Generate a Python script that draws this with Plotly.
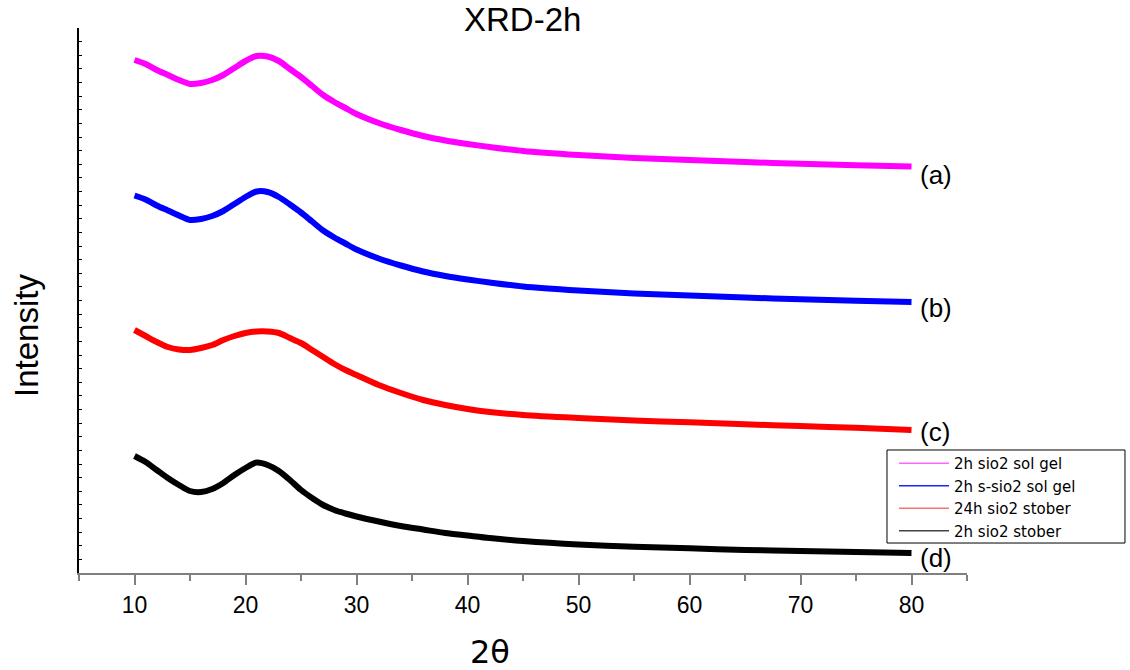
import plotly.graph_objects as go

# 2-theta sample positions (degrees)
two_theta = [10, 11, 12, 13, 14, 15, 16, 17, 18, 19, 20, 21, 22, 23, 24, 25, 26, 27, 28, 29,
             30, 32, 34, 36, 38, 40, 42, 45, 50, 55, 60, 65, 70, 75, 80]

# Intensity (a.u., stacked/offset as in the figure)
sol_gel_2h = [513, 509, 503, 498, 493, 489, 490, 493, 498, 505, 512, 517, 516.5, 512, 504, 496, 487, 478, 471, 465,
              459, 450, 443, 437, 432.5, 429, 426, 422, 418, 415, 413, 411, 409.2, 407.8, 406.5]
s_sol_gel_2h = [377.5, 373.5, 367.5, 362.5, 357.5, 353, 354, 357, 362, 369, 376, 381.5, 381, 376, 368.5, 360.5, 351.5, 342.5, 335.5, 329.5,
                323.5, 314.5, 307.5, 301.5, 297, 293.5, 290.5, 286.5, 282.5, 279.5, 277.5, 275.5, 273.7, 272.3, 271]
stober_24h = [243, 237, 231, 226, 223.5, 223, 225, 228, 233, 237, 240, 241.5, 241.5, 240, 235, 230, 223, 216, 209, 203,
              198, 188, 180, 173, 168, 164, 161, 158, 155, 152.5, 150.7, 148.7, 147, 145.2, 143]
stober_2h = [117, 111, 103, 95, 88, 82, 81, 84, 90, 98, 105, 110.5, 108, 102, 93, 83, 75, 68, 63, 59.5,
             56.5, 51.5, 47, 43.5, 40, 37.5, 35, 32, 28.5, 26.3, 24.7, 23, 22, 21, 20]

series_names = ["2h sio2 sol gel", "2h s-sio2 sol gel", "24h sio2 stober", "2h sio2 stober"]
curve_labels = ["(a)", "(b)", "(c)", "(d)"]
label_y = [398, 265, 141, 15]

FONT = "Liberation Sans, Arial, sans-serif"
colors = ["#ff00ff", "#0000ff", "#ff0000", "#000000"]
legend_colors = ["#ff66ff", "#2222ff", "#ff7070", "#444444"]

fig = go.Figure()
for i, (name, ys, c) in enumerate(zip(series_names, [sol_gel_2h, s_sol_gel_2h, stober_24h, stober_2h], colors)):
    fig.add_trace(go.Scatter(x=two_theta, y=ys, mode="lines", name=name, legendgroup=f"g{i}",
                             showlegend=False,
                             line=dict(color=c, width=6, shape="spline", smoothing=0.8)))
# thin legend entries (legend-only)
for i, (name, lc) in enumerate(zip(series_names, legend_colors)):
    fig.add_trace(go.Scatter(x=[None], y=[None], mode="lines", name=name, legendgroup=f"g{i}",
                             showlegend=True, line=dict(color=lc, width=1.5)))

for lab, yv in zip(curve_labels, label_y):
    fig.add_annotation(x=80.6, y=yv, xref="x", yref="y", text=lab, showarrow=False,
                       xanchor="left", yanchor="middle", font=dict(family=FONT, size=26, color="black"))

fig.add_annotation(x=0.4989, y=1.0165, xref="paper", yref="paper", text="XRD-2h", showarrow=False,
                   xanchor="center", yanchor="middle", font=dict(family=FONT, size=33, color="black"))
fig.add_annotation(x=-0.0586, y=0.4367, xref="paper", yref="paper", text="Intensity", showarrow=False,
                   textangle=-90, xanchor="center", yanchor="middle", font=dict(family=FONT, size=33, color="black"))
fig.add_annotation(x=0.4628, y=-0.145, xref="paper", yref="paper", text="2θ", showarrow=False,
                   xanchor="center", yanchor="middle", font=dict(family="DejaVu Sans, sans-serif", size=32, color="black"))

# legend frame (wider than plotly's auto-sized legend box, as in the original)
fig.add_shape(type="rect", xref="paper", yref="paper",
              x0=0.9099, x1=1.1779, y0=0.055, y1=0.2257,
              line=dict(color="black", width=1), fillcolor="white", layer="above")

fig.update_layout(
    width=1130, height=670,
    margin=dict(l=79, r=163, t=28, b=97),
    paper_bgcolor="white", plot_bgcolor="white",
    showlegend=True,
    legend=dict(x=0.9178, y=0.2312, xanchor="left", yanchor="top",
                borderwidth=0, bgcolor="rgba(0,0,0,0)",
                font=dict(family="DejaVu Sans, sans-serif", size=15, color="black"),
                itemwidth=50, tracegroupgap=0),
    xaxis=dict(range=[5, 85], showgrid=False, zeroline=False,
               showline=True, linecolor="#808080", linewidth=2,
               ticks="outside", ticklen=10, tickcolor="#808080", tickwidth=1.5,
               tick0=0, dtick=10,
               minor=dict(ticks="outside", ticklen=6, tickcolor="#808080", tickwidth=1.5, dtick=5, tick0=0),
               tickfont=dict(family=FONT, size=23, color="black")),
    yaxis=dict(range=[0, 545], showgrid=False, zeroline=False,
               showline=True, linecolor="black", linewidth=1.5,
               ticks="inside", ticklen=3, tickcolor="black", tickwidth=1,
               tick0=0, dtick=545 / 40, showticklabels=False),
)

fig.write_html("out.html")
